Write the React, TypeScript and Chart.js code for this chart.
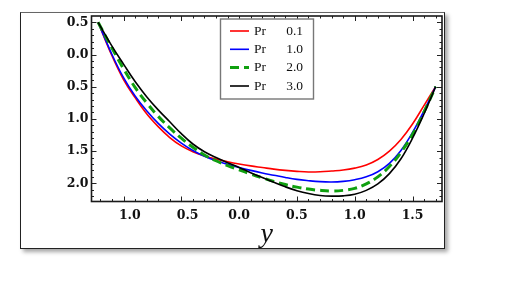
import React, { useEffect, useRef } from "react";
import { Chart, registerables } from "chart.js";

Chart.register(...registerables);

// ---- data ----
const xs = [-1.22, -1.1, -1.0, -0.9, -0.8, -0.7, -0.6, -0.5, -0.4, -0.3, -0.2, -0.1, 0, 0.1, 0.2, 0.3, 0.4, 0.5, 0.6, 0.7, 0.8, 0.9, 1.0, 1.1, 1.2, 1.3, 1.4, 1.5, 1.6, 1.7];

const pr01 = [0.5, -0.02, -0.39, -0.67, -0.92, -1.12, -1.29, -1.42, -1.51, -1.575, -1.625, -1.665, -1.7, -1.73, -1.755, -1.78, -1.8, -1.815, -1.825, -1.822, -1.81, -1.795, -1.765, -1.715, -1.63, -1.5, -1.32, -1.08, -0.79, -0.5];
const pr10 = [0.5, 0.0, -0.36, -0.645, -0.875, -1.07, -1.235, -1.375, -1.49, -1.58, -1.65, -1.705, -1.755, -1.8, -1.84, -1.875, -1.91, -1.94, -1.96, -1.975, -1.98, -1.97, -1.945, -1.9, -1.82, -1.69, -1.49, -1.21, -0.87, -0.5];
const pr20 = [0.5, 0.1, -0.22, -0.51, -0.75, -0.96, -1.14, -1.3, -1.44, -1.56, -1.65, -1.725, -1.79, -1.855, -1.915, -1.97, -2.02, -2.06, -2.09, -2.11, -2.12, -2.11, -2.08, -2.01, -1.9, -1.74, -1.52, -1.24, -0.89, -0.5];
const pr30 = [0.5, 0.13, -0.15, -0.42, -0.655, -0.86, -1.045, -1.23, -1.39, -1.51, -1.6, -1.68, -1.755, -1.835, -1.91, -1.985, -2.055, -2.115, -2.16, -2.19, -2.2, -2.195, -2.17, -2.11, -2.01, -1.85, -1.62, -1.3, -0.92, -0.5];

const seriesNames = ["Pr", "Pr", "Pr", "Pr"];
const prValues = ["0.1", "1.0", "2.0", "3.0"];

const xTickValues = [-1.0, -0.5, 0.0, 0.5, 1.0, 1.5];
const yTickValues = [0.5, 0.0, -0.5, -1.0, -1.5, -2.0];
const xTitle = "y";

// ---- styles ----
const colors = ["#ff0000", "#0000ff", "#10a010", "#000000"];
const widths = [1.6, 1.6, 3, 1.6];
const dashes: number[][] = [[], [], [9, 5], []];

const toPoints = (ys: number[]) => xs.map((x, i) => ({ x, y: ys[i] }));

const framePlugin = {
  id: "frameTicks",
  afterDatasetsDraw(chart: any) {
    const { ctx, chartArea, scales } = chart;
    const { left, right, top, bottom } = chartArea;
    const sx = scales.x;
    const sy = scales.y;
    ctx.save();
    ctx.strokeStyle = "#222";
    ctx.lineWidth = 1;
    const seg = (a: number, b: number, c: number, d: number) => {
      ctx.beginPath();
      ctx.moveTo(a, b);
      ctx.lineTo(c, d);
      ctx.stroke();
    };
    for (let i = Math.ceil(sx.min * 10); i <= Math.floor(sx.max * 10); i++) {
      const px = Math.round(sx.getPixelForValue(i / 10)) + 0.5;
      const len = i % 5 === 0 ? 5 : 2.5;
      seg(px, bottom, px, bottom - len);
      seg(px, top, px, top + len);
    }
    for (let i = Math.ceil(sy.min * 10); i <= Math.floor(sy.max * 10); i++) {
      const py = Math.round(sy.getPixelForValue(i / 10)) + 0.5;
      const len = i % 5 === 0 ? 5 : 2.5;
      seg(left, py, left + len, py);
      seg(right, py, right - len, py);
    }
    ctx.lineWidth = 1.6;
    ctx.strokeStyle = "#1a1a1a";
    ctx.strokeRect(left, top, right - left, bottom - top);
    ctx.restore();
  },
};

const legendPlugin = {
  id: "insetLegend",
  afterDraw(chart: any) {
    const { ctx } = chart;
    const bx = 220.5;
    const by = 19;
    const bw = 93;
    const bh = 80;
    ctx.save();
    ctx.fillStyle = "#ffffff";
    ctx.fillRect(bx, by, bw, bh);
    ctx.strokeStyle = "#777";
    ctx.lineWidth = 1.4;
    ctx.strokeRect(bx, by, bw, bh);
    const rowY = [31, 49.3, 67.5, 86];
    chart.data.datasets.forEach((ds: any, i: number) => {
      const y = rowY[i];
      ctx.strokeStyle = ds.borderColor;
      ctx.lineWidth = ds.borderWidth;
      ctx.setLineDash(ds.borderDash || []);
      ctx.beginPath();
      ctx.moveTo(230, y);
      ctx.lineTo(249, y);
      ctx.stroke();
      ctx.setLineDash([]);
      ctx.fillStyle = "#111";
      ctx.font = '13.5px "Liberation Serif"';
      ctx.textBaseline = "middle";
      ctx.textAlign = "left";
      ctx.fillText(seriesNames[i], 254, y);
      ctx.textAlign = "right";
      ctx.fillText(prValues[i], 303, y);
    });
    ctx.restore();
  },
};

export default function App() {
  const ref = useRef<HTMLCanvasElement | null>(null);

  useEffect(() => {
    if (!ref.current) return;
    const allSeries = [pr01, pr10, pr20, pr30];
    const chart = new Chart(ref.current, {
      type: "scatter",
      data: {
        datasets: allSeries.map((s, i) => ({
          label: seriesNames[i] + " " + prValues[i],
          data: toPoints(s),
          showLine: true,
          borderColor: colors[i],
          backgroundColor: colors[i],
          borderWidth: widths[i],
          borderDash: dashes[i],
          pointRadius: 0,
          pointHoverRadius: 0,
          tension: 0.4,
          order: 3 - i,
        })),
      },
      options: {
        responsive: false,
        animation: false,
        events: [],
        layout: { padding: { left: 0, right: 88, top: 16, bottom: 0 } },
        plugins: {
          legend: { display: false },
          tooltip: { enabled: false },
        },
        scales: {
          x: {
            type: "linear",
            min: -1.277,
            max: 1.755,
            afterBuildTicks: (scale: any) => {
              scale.ticks = xTickValues.map((v) => ({ value: v }));
            },
            afterFit: (scale: any) => {
              scale.height = 79.5;
            },
            grid: { display: false, drawTicks: false },
            border: { display: false },
            ticks: {
              autoSkip: false,
              maxRotation: 0,
              padding: 7,
              color: "#111",
              font: { family: "DejaVu Serif", weight: "bold", size: 12.5 },
              callback: (v: any) => {
                const n = Number(v);
                const s = Math.abs(n).toFixed(1);
                return n < 0 ? "\u2002\u2002" + s : s;
              },
            },
            title: {
              display: true,
              text: xTitle,
              color: "#111",
              font: { family: "Liberation Serif", style: "italic", size: 28 },
              padding: { top: 0, bottom: 30 },
            },
          },
          y: {
            type: "linear",
            min: -2.283,
            max: 0.598,
            afterBuildTicks: (scale: any) => {
              scale.ticks = yTickValues.map((v) => ({ value: v }));
            },
            afterFit: (scale: any) => {
              scale.width = 91.5;
            },
            grid: { display: false, drawTicks: false },
            border: { display: false },
            ticks: {
              autoSkip: false,
              padding: 3,
              color: "#111",
              font: { family: "DejaVu Serif", weight: "bold", size: 12.5 },
              callback: (v: any) => Math.abs(Number(v)).toFixed(1),
            },
          },
        },
      },
      plugins: [framePlugin, legendPlugin],
    } as any);
    return () => chart.destroy();
  }, []);

  return (
    <div style={{ position: "absolute", left: 0, top: 0, width: 530, height: 281, background: "#fff" }}>
      <div
        style={{
          position: "absolute",
          left: 20,
          top: 11.5,
          width: 423,
          height: 235,
          border: "1.5px solid #222",
          borderTopColor: "#666",
          background: "#fff",
          boxShadow: "3px 3px 4px rgba(0,0,0,0.35)",
        }}
      />
      <canvas ref={ref} width={530} height={281} style={{ position: "absolute", left: 0, top: 0 }} />
    </div>
  );
}
